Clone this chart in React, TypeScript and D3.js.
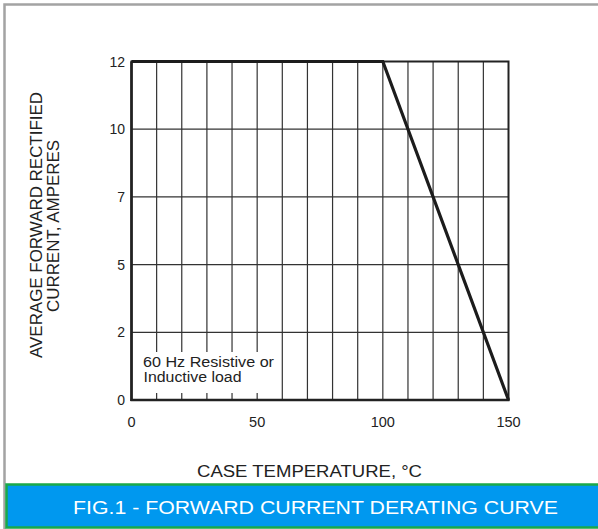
import React from "react";
import * as d3 from "d3";

const W = 598;
const H = 529;

const temps = [0, 100, 150];
const currents = [12, 12, 0];
const yTickValues = [0, 2, 5, 7, 10, 12];
const xTickLabels = [0, 50, 100, 150];
const xGridValues = d3.range(10, 150, 10);

const yTitle1 = "AVERAGE FORWARD RECTIFIED";
const yTitle2 = "CURRENT, AMPERES";
const xTitle = "CASE TEMPERATURE, °C";
const figTitle = "FIG.1 - FORWARD CURRENT DERATING CURVE";
const note1 = "60 Hz Resistive or";
const note2 = "Inductive load";

export default function App() {
  const left = 131.5, right = 508.5, top = 61.5, bottom = 400;
  const x = d3.scaleLinear().domain([0, 150]).range([left, right]);
  const step = (bottom - top) / (yTickValues.length - 1);
  const y = d3
    .scaleLinear()
    .domain(yTickValues)
    .range(yTickValues.map((_, i) => bottom - i * step));

  const line = d3
    .line<number>()
    .x((_, i) => x(temps[i]))
    .y((d) => y(d));

  const font = "'Liberation Sans', Arial, Helvetica, sans-serif";
  const ink = "#222";

  return (
    <svg
      width={W}
      height={H}
      style={{ position: "absolute", left: 0, top: 0, background: "#fff" }}
      fontFamily={font}
    >
      <rect x={0} y={0} width={W} height={H} fill="#fff" />
      {/* outer gray frame */}
      <path d={`M4.5,${H} V4.5 H${W + 2}`} fill="none" stroke="#a3a3a3" strokeWidth={2.5} />

      {/* horizontal grid */}
      {yTickValues.slice(1, -1).map((v) => (
        <line key={"h" + v} x1={left} x2={right} y1={y(v)} y2={y(v)} stroke="#333" strokeWidth={1.2} />
      ))}
      {/* vertical grid */}
      {xGridValues.map((v) => (
        <line key={"v" + v} x1={x(v)} x2={x(v)} y1={top} y2={bottom} stroke="#333" strokeWidth={1.2} />
      ))}
      {/* note background */}
      <rect x={left + 2} y={352} width={143} height={41} fill="#fff" />

      {/* frame */}
      <rect x={left} y={top} width={right - left} height={bottom - top} fill="none" stroke={ink} strokeWidth={2} />
      <line x1={left} x2={left} y1={top} y2={bottom + 1} stroke={ink} strokeWidth={2.6} />
      <line x1={left - 1} x2={right + 1} y1={bottom} y2={bottom} stroke={ink} strokeWidth={2.6} />

      {/* data line */}
      <path d={line(currents) || ""} fill="none" stroke="#1c1c1c" strokeWidth={3.2} strokeLinejoin="miter" />

      {/* y tick labels */}
      {yTickValues.map((v) => (
        <text key={"yl" + v} x={125} y={y(v) + 5} textAnchor="end" fontSize={14} fill={ink}>
          {v}
        </text>
      ))}
      {/* x tick labels */}
      {xTickLabels.map((v) => (
        <text key={"xl" + v} x={x(v)} y={427} textAnchor="middle" fontSize={14.5} fill={ink}>
          {v}
        </text>
      ))}

      {/* note */}
      <text x={143} y={367} fontSize={14} fill={ink} textLength={131} lengthAdjust="spacingAndGlyphs">
        {note1}
      </text>
      <text x={143.5} y={382} fontSize={14} fill={ink} textLength={98} lengthAdjust="spacingAndGlyphs">
        {note2}
      </text>

      {/* y title */}
      <text
        transform={`translate(41.5,225) rotate(-90)`}
        textAnchor="middle"
        fontSize={16.5}
        fill={ink}
        textLength={266}
        lengthAdjust="spacingAndGlyphs"
      >
        {yTitle1}
      </text>
      <text
        transform={`translate(58.5,226) rotate(-90)`}
        textAnchor="middle"
        fontSize={16.5}
        fill={ink}
        textLength={172}
        lengthAdjust="spacingAndGlyphs"
      >
        {yTitle2}
      </text>

      {/* x title */}
      <text x={309.5} y={477} textAnchor="middle" fontSize={16} fill={ink} textLength={225} lengthAdjust="spacingAndGlyphs">
        {xTitle}
      </text>

      {/* figure caption bar */}
      <rect x={6.5} y={484.5} width={W + 10} height={43} fill="#0098ef" stroke="#1aa84a" strokeWidth={2.5} />
      <text x={315.5} y={514} textAnchor="middle" fontSize={18} fill="#fff" textLength={485} lengthAdjust="spacingAndGlyphs">
        {figTitle}
      </text>
    </svg>
  );
}
